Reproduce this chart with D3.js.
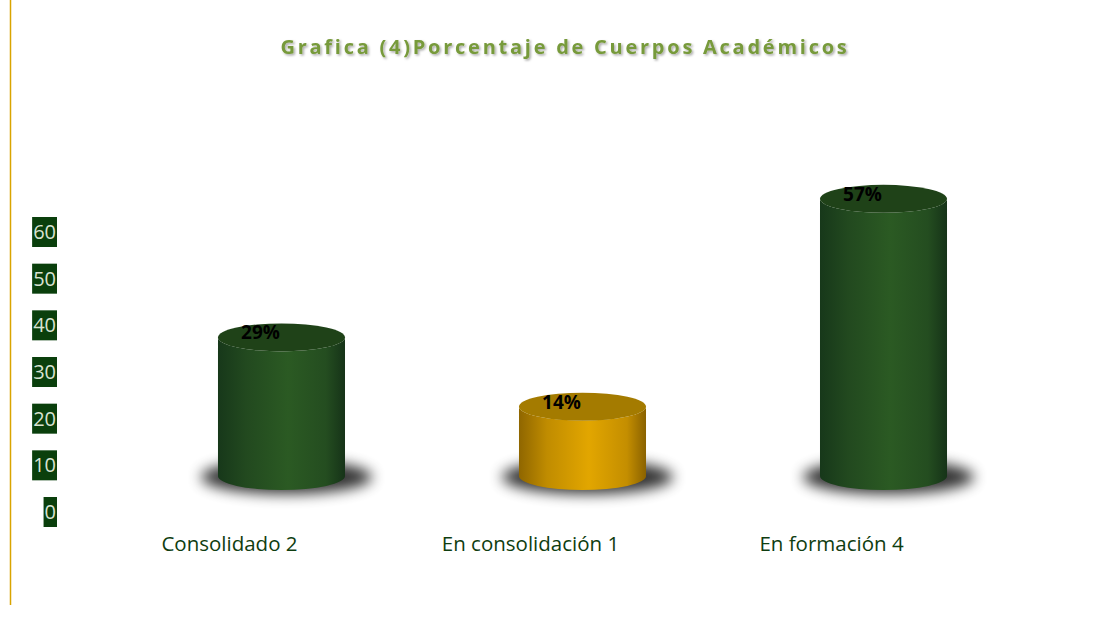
<!DOCTYPE html>
<html><head><meta charset="utf-8">
<script src="https://cdn.jsdelivr.net/npm/d3@7"></script>
<style>body{margin:0;background:#fff}svg{display:block}</style>
</head><body>
<svg id="c" width="1108" height="625"></svg>
<script>
const categories = ["Consolidado 2", "En consolidación 1", "En formación 4"];
const values = [28.57, 14.29, 57.14];
const valueLabels = ["29%", "14%", "57%"];
const tickValues = [0, 10, 20, 30, 40, 50, 60];
const title = "Grafica (4)Porcentaje de Cuerpos Académicos";
const palette = ["green", "gold", "green"];

const svg = d3.select("#c");
const defs = svg.append("defs");

function grad(id, stops){
  const g = defs.append("linearGradient").attr("id", id).attr("x1","0%").attr("x2","100%").attr("y1","0%").attr("y2","0%");
  stops.forEach(s => g.append("stop").attr("offset", s[0]).attr("stop-color", s[1]));
}
grad("gGreen", [["0%","#17381a"],["22%","#22491f"],["55%","#2b5a23"],["85%","#244d20"],["100%","#163318"]]);
grad("gGold", [["0%","#8f6600"],["22%","#c08c00"],["55%","#e2a600"],["85%","#c48e00"],["100%","#8a6200"]]);
const topColor = {green:"#1f4218", gold:"#a47b00"};
const bodyFill = {green:"url(#gGreen)", gold:"url(#gGold)"};

const blur = defs.append("filter").attr("id","blur").attr("x","-50%").attr("y","-100%").attr("width","200%").attr("height","300%");
blur.append("feGaussianBlur").attr("stdDeviation", 7);
const tshadow = defs.append("filter").attr("id","tsh").attr("x","-10%").attr("y","-30%").attr("width","120%").attr("height","160%");
tshadow.append("feDropShadow").attr("dx",1.5).attr("dy",1.5).attr("stdDeviation",1.2).attr("flood-color","#000").attr("flood-opacity",0.35);

// left golden line
svg.append("line").attr("x1",10.5).attr("x2",10.5).attr("y1",0).attr("y2",605).attr("stroke","#d9a400").attr("stroke-width",1.5);

// title
svg.append("text").attr("x",565).attr("y",54).attr("text-anchor","middle")
  .attr("font-family","'Open Sans', 'Noto Sans', sans-serif").attr("font-weight","bold")
  .attr("font-size",20).attr("letter-spacing",2.75).attr("fill","#779a3a").attr("filter","url(#tsh)")
  .text(title);

// scales
const x = d3.scaleBand().domain(categories).range([44, 1121]).padding(0.578);
const yAxis = d3.scaleLinear().domain([0, 60]).range([512, 232]);
const yBar = d3.scaleLinear().domain([0, 60]).range([476, 185]);

// axis labels with dark boxes
const ax = svg.append("g");
tickValues.forEach(t => {
  const g = ax.append("g").attr("transform", `translate(57,${yAxis(t)})`);
  const txt = g.append("text").attr("x",-1).attr("y",7).attr("text-anchor","end")
    .attr("font-family","'Open Sans', 'Noto Sans', sans-serif").attr("font-size",20).attr("fill","#d9e2d2").text(t);
  const w = txt.node().getComputedTextLength();
  g.insert("rect","text").attr("x", -w-2).attr("y",-15).attr("width", w+2).attr("height",30).attr("fill","#0a3f0c");
});

const rx = x.bandwidth()/2, ry = 14;

categories.forEach((c, i) => {
  const cx = x(c) + rx;
  const yb = yBar(0), yt = yBar(values[i]);
  const col = palette[i];
  // shadow
  svg.append("ellipse").attr("cx", cx + 5).attr("cy", yb + 1).attr("rx", rx + 22).attr("ry", ry + 3)
    .attr("fill", "#000").attr("opacity", 0.8).attr("filter","url(#blur)");
  // body
  svg.append("path")
    .attr("d", `M${cx-rx},${yt} L${cx-rx},${yb} A${rx},${ry} 0 0 0 ${cx+rx},${yb} L${cx+rx},${yt} A${rx},${ry} 0 0 1 ${cx-rx},${yt} Z`)
    .attr("fill", bodyFill[col]);
  // top
  svg.append("ellipse").attr("cx", cx).attr("cy", yt).attr("rx", rx).attr("ry", ry).attr("fill", topColor[col]);
  // value label
  svg.append("text").attr("x", cx - 21).attr("y", yt + 2).attr("text-anchor","middle")
    .attr("font-family","'Open Sans', 'Noto Sans', sans-serif").attr("font-weight","bold")
    .attr("font-size",19).attr("fill","#000").text(valueLabels[i]);
  // category label
  svg.append("text").attr("x", cx - 52).attr("y", 551).attr("text-anchor","middle")
    .attr("font-family","'Open Sans', 'Noto Sans', sans-serif").attr("font-size",20.5)
    .attr("fill","#0f3d10").text(c);
});
</script>
</body></html>
